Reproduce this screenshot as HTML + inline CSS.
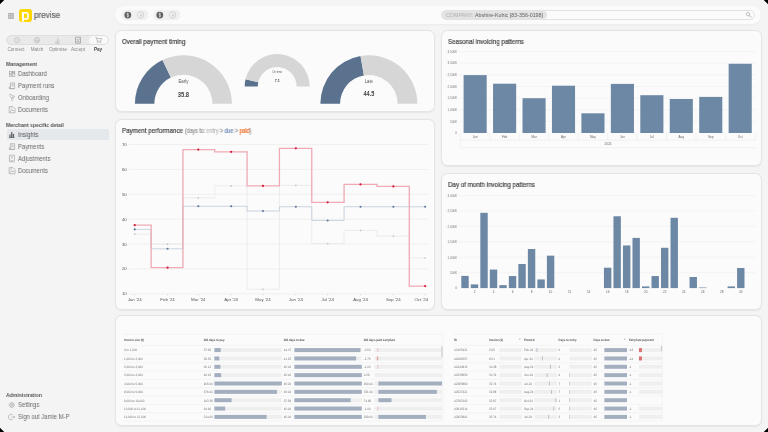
<!DOCTYPE html>
<html><head><meta charset="utf-8">
<style>
*{box-sizing:border-box;margin:0;padding:0}
html,body{width:768px;height:432px;overflow:hidden;background:#f4f4f4;font-family:"Liberation Sans",sans-serif;color:#555}
.a{position:absolute;white-space:nowrap}
.card{position:absolute;background:#fbfbfb;border:0.8px solid #e4e4e4;border-radius:6.5px;box-shadow:0 0.5px 1.5px rgba(0,0,0,0.06)}
.ttl{position:absolute;font-size:7px;color:#454545;white-space:nowrap;transform:scaleX(0.886);transform-origin:0 0;-webkit-text-stroke:0.2px currentColor}
.sh{position:absolute;font-size:6px;font-weight:bold;color:#555;white-space:nowrap;transform:scaleX(0.85);transform-origin:0 0}
.si{position:absolute;font-size:6.9px;color:#6a6a6a;white-space:nowrap;line-height:8px;transform:scaleX(0.855);transform-origin:0 0}
.ico{position:absolute}
.a,.ttl,.si,.sh,svg{will-change:transform}
</style></head><body>
<!-- corners -->
<svg class="a" style="left:0;top:0;z-index:10" width="768" height="432">
<g stroke="#fff" stroke-width="1">
<path d="M0 5.2 L5.2 0 M762.8 0 L768 5.2 M0 426.8 L5.2 432 M762.8 432 L768 426.8"/>
</g>
<polygon points="0,0 4.3,0 0,4.3" fill="#000"/>
<polygon points="768,0 763.7,0 768,4.3" fill="#000"/>
<polygon points="0,432 4.3,432 0,427.7" fill="#000"/>
<polygon points="768,432 763.7,432 768,427.7" fill="#000"/>
</svg>

<!-- SIDEBAR -->
<div id="sidebar">
<!-- hamburger -->
<svg class="a" style="left:8px;top:13px" width="6" height="6"><rect x="0" y="0.2" width="6" height="1.3" fill="#a0a0a0"/><rect x="0" y="2.3" width="6" height="1.3" fill="#a0a0a0"/><rect x="0" y="4.4" width="6" height="1.3" fill="#a0a0a0"/></svg>
<!-- logo -->
<div class="a" style="left:19.1px;top:9.1px;width:12.8px;height:13.1px;background:#ffd600;border-radius:3px"></div>
<svg class="a" style="left:19px;top:9.1px" width="13" height="13.2"><path fill-rule="evenodd" fill="#fff" d="M2.9 2.95 H7.3 A2.5 2.5 0 0 1 9.8 5.45 V8.3 A2.5 2.5 0 0 1 7.3 10.8 H5.1 V12.5 H2.9 Z M5.1 4.6 V9.2 H7 A1.2 1.2 0 0 0 8.2 8 V5.8 A1.2 1.2 0 0 0 7 4.6 Z"/></svg>
<div class="a" style="left:33.8px;top:9.9px;font-size:9px;color:#666;line-height:10px;transform:scaleX(0.9);transform-origin:0 0;-webkit-text-stroke:0.2px #666">previse</div>
<!-- nav pill -->
<div class="a" style="left:6px;top:35.3px;width:102.6px;height:9.6px;border-radius:5px;background:#e9e9e9;border:0.6px solid #dedede;overflow:hidden">
  <div class="a" style="left:82.3px;top:0;width:21px;height:9px;background:#f8f8f8;border-radius:4.5px"></div>
</div>
<svg class="a" style="left:6px;top:35px" width="103" height="11">
 <g fill="none" stroke="#b4b4b4" stroke-width="0.55">
  <circle cx="11.1" cy="5.1" r="2.7"/><path d="M10.3 3.6 L11.8 5.1 L10.3 6.6"/>
  <circle cx="31" cy="5.1" r="2.7"/><path d="M28.4 5.4 H33.6 M29.3 3.4 A2.4 2.4 0 0 0 32.7 3.4 M29.3 7.2 A2.4 2.4 0 0 1 32.7 7.2"/>
  <path d="M50 8.2 V6 M51.5 8.2 V2.8 M53 8.2 V4.5 M49 8.3 H54"/>
 </g>
 <g fill="none" stroke="#999" stroke-width="0.7">
  <path d="M69.5 2.2 H74.5 V8.2 H69.5 Z M70.8 4 L72 5.6 L73.8 3.4 M70.3 6.8 H73.8"/>
 </g>
 <g fill="none" stroke="#a8a8a8" stroke-width="0.65">
  <path d="M89.4 2.3 H90.3 L91.2 6.2 H94.9 L95.6 3.5 H90.9"/><circle cx="91.7" cy="7.4" r="0.45"/><circle cx="94.4" cy="7.4" r="0.45"/>
 </g>
</svg>
<div class="a" style="left:0;top:46.6px;width:115px;font-size:4.6px;color:#888;line-height:5px">
  <span class="a" style="left:16.4px;transform:translateX(-50%)">Connect</span>
  <span class="a" style="left:37px;transform:translateX(-50%)">Match</span>
  <span class="a" style="left:57.5px;transform:translateX(-50%)">Optimise</span>
  <span class="a" style="left:78px;transform:translateX(-50%)">Accept</span>
  <span class="a" style="left:98.4px;transform:translateX(-50%);font-weight:bold;color:#4a4a4a">Pay</span>
</div>
<!-- management -->
<div class="sh" style="left:6.4px;top:60.5px;line-height:6px">Management</div>
<div class="si" style="left:18px;top:69.8px">Dashboard</div>
<div class="si" style="left:18px;top:81.5px">Payment runs</div>
<div class="si" style="left:18px;top:93.5px">Onboarding</div>
<div class="si" style="left:18px;top:105.7px">Documents</div>
<div class="sh" style="left:6.4px;top:122px;line-height:6px">Merchant specific detail</div>
<div class="a" style="left:6.5px;top:129px;width:102px;height:10.7px;background:#e4e8ec;border-radius:1.5px"></div>
<div class="si" style="left:18px;top:130.5px;color:#555">Insights</div>
<div class="si" style="left:18px;top:142.6px">Payments</div>
<div class="si" style="left:18px;top:155px">Adjustments</div>
<div class="si" style="left:18px;top:166.5px">Documents</div>
<div class="sh" style="left:6.4px;top:392.2px;line-height:6px">Administration</div>
<div class="si" style="left:18px;top:401.4px">Settings</div>
<div class="si" style="left:18px;top:413.4px">Sign out Jamie M-P</div>
<svg class="a" style="left:0;top:60px" width="20" height="365">
 <g fill="none" stroke="#a2a2a2" stroke-width="0.65">
  <!-- dashboard grid -->
  <rect x="9.4" y="11.3" width="2.2" height="2.1"/><rect x="9.4" y="14.3" width="2.2" height="2.1"/><rect x="12.6" y="11.3" width="2.2" height="1.4"/><rect x="12.6" y="13.6" width="2.2" height="2.8"/>
  <!-- payment runs -->
  <path d="M10.4 28.6 V22.9 H14.6 V28.6 Z M9.2 27 H10.4 M9.2 27 V28.6 H14.6"/><path d="M11.4 24.4 H13.6 M11.4 25.8 H13.6"/>
  <!-- onboarding -->
  <path d="M9 34.8 Q11 34 12.4 35.6 Q14.2 35.4 14.6 37 Q13 37.6 12.4 37 Q13.6 38.8 12 39.6 L12 41.2 M10.2 36.2 Q11.4 37.4 12 39.4"/>
  <!-- documents -->
  <path d="M9.2 46.6 H13 L15 48.6 V52.8 H9.2 Z M10.2 51.8 L11.8 49.6 L13 51 L14 50 M10.4 48 H12"/>
  <!-- payments -->
  <path d="M10.4 89.4 V83.7 H14.6 V89.4 Z M9.2 87.8 H10.4 M9.2 87.8 V89.4 H14.6"/><path d="M11.4 85.2 H13.6 M11.4 86.6 H13.6"/>
  <!-- adjustments -->
  <path d="M9.4 95.2 H14.4 V101.8 H9.4 Z M10.6 99 L13.2 96.6 M10.6 100.6 H13.2 M10.8 96.8 H12"/>
  <!-- documents 2 -->
  <path d="M9.2 107.6 H13 L15 109.6 V113.8 H9.2 Z M10.2 112.8 L11.8 110.6 L13 112 L14 111 M10.4 109 H12"/>
  <!-- settings -->
  <circle cx="11.8" cy="345" r="2.3"/><circle cx="11.8" cy="345" r="0.9"/>
  <path d="M11.8 342 V342.7 M11.8 347.3 V348 M8.8 345 H9.5 M14.1 345 H14.8 M9.7 342.9 L10.2 343.4 M13.4 346.6 L13.9 347.1 M9.7 347.1 L10.2 346.6 M13.4 343.4 L13.9 342.9"/>
  <!-- sign out -->
  <path d="M12.6 354.6 A2.8 2.8 0 1 0 12.6 359.4 M11.4 357 H14.8 M13.6 355.8 L14.8 357 L13.6 358.2"/>
 </g>
 <!-- insights icon filled -->
 <g fill="#5a5a5a"><rect x="9.4" y="74.6" width="1.2" height="3"/><rect x="11.1" y="72.2" width="1.3" height="5.4"/><rect x="12.9" y="74" width="1.2" height="3.6"/><rect x="9" y="77.3" width="5.4" height="0.7"/></g>
</svg>
</div>

<!-- TOP BAR -->
<div class="a" style="left:115px;top:6.3px;width:646px;height:17.8px;border-radius:8.9px;background:#fbfbfb;box-shadow:0 0 0.8px rgba(0,0,0,0.06),0 1px 2.5px rgba(0,0,0,0.04)"></div>

<div class="a" style="left:121.5px;top:10px;width:25.5px;height:10.3px;border-radius:5.2px;background:#f0f0f0;box-shadow:0 0 0.8px rgba(0,0,0,0.12)"></div>
<div class="a" style="left:153.6px;top:10px;width:25.5px;height:10.3px;border-radius:5.2px;background:#f0f0f0;box-shadow:0 0 0.8px rgba(0,0,0,0.12)"></div>
<svg class="a" style="left:115px;top:6px" width="80" height="18">
 <circle cx="12.8" cy="9.1" r="3.4" fill="#5e5e5e"/>
 <path d="M13.80 7.9 Q12.80 7.3 11.90 7.9 Q11.60 8.9 12.80 9.1 Q14.00 9.4 13.70 10.3 Q12.80 10.9 11.80 10.3 M12.80 6.6 V11.6" fill="none" stroke="#e8e8e8" stroke-width="0.65"/>
 <circle cx="25.6" cy="9.1" r="3.1" fill="#f6f6f6" stroke="#c6c6c6" stroke-width="0.8"/>
 <text x="25.6" y="10.6" font-family="Liberation Sans" font-size="3.6" fill="#777" text-anchor="middle">₹</text>
 <circle cx="44.8" cy="9.1" r="3.4" fill="#5e5e5e"/>
 <path d="M45.80 7.9 Q44.80 7.3 43.90 7.9 Q43.60 8.9 44.80 9.1 Q46.00 9.4 45.70 10.3 Q44.80 10.9 43.80 10.3 M44.80 6.6 V11.6" fill="none" stroke="#e8e8e8" stroke-width="0.65"/>
 <circle cx="57.6" cy="9.1" r="3.1" fill="#f6f6f6" stroke="#c6c6c6" stroke-width="0.8"/>
 <text x="57.6" y="10.6" font-family="Liberation Sans" font-size="3.6" fill="#777" text-anchor="middle">₹</text>
</svg>
<!-- search -->
<div class="a" style="left:441px;top:10.2px;width:314px;height:9.6px;border-radius:4.8px;background:#fbfbfb;border:0.6px solid #e2e2e2"></div>
<div class="a" style="left:441.7px;top:10.8px;width:104.8px;height:8.4px;border-radius:4.2px;background:#e3e3e3"></div>
<div class="a" style="left:445.6px;top:12px;font-size:5.35px;line-height:6px;color:#b0b0b0">COMPANY: <span style="color:#606060">Abshire-Kuhic [83-356-0198]</span></div>
<svg class="a" style="left:745px;top:11px" width="8" height="8"><circle cx="3" cy="3.2" r="1.7" fill="none" stroke="#999" stroke-width="0.6"/><path d="M4.2 4.4 L6.2 6.4" stroke="#999" stroke-width="0.8"/></svg>

<!-- CARDS -->
<div class="card" style="left:115.2px;top:30.2px;width:319.8px;height:82.2px"></div>
<div class="card" style="left:441px;top:30.2px;width:320.8px;height:136.3px"></div>
<div class="card" style="left:115.2px;top:119.2px;width:319.8px;height:190.8px"></div>
<div class="card" style="left:441px;top:173.2px;width:320.8px;height:136.8px"></div>
<div class="card" style="left:115.2px;top:315px;width:646.6px;height:110.5px"></div>
<div class="ttl" style="left:121.5px;top:38px;line-height:7px">Overall payment timing</div>
<div class="ttl" style="left:448px;top:37.8px;line-height:7px">Seasonal invoicing patterns</div>
<div class="ttl" style="left:448px;top:181px;line-height:7px">Day of month invoicing patterns</div>
<div class="ttl" style="left:121.8px;top:127.2px;line-height:7px">Payment performance <span style="font-size:6.5px;letter-spacing:-0.22px;color:#9a9a9a">(days to: <span style="color:#bdbdbd">entry</span> &gt; <span style="color:#7391b5">due</span> &gt; <span style="color:#f2712e">paid</span>)</span></div>
<svg class="a" style="left:0;top:0" width="440" height="115" font-family="Liberation Sans">
<path d="M134.90 103.75 A48.5 48.5 0 0 1 162.47 60.00 L170.89 77.59 A29 29 0 0 0 154.40 103.75 Z" fill="#5b728f"/>
<path d="M162.47 60.00 A48.5 48.5 0 0 1 231.90 103.75 L212.40 103.75 A29 29 0 0 0 170.89 77.59 Z" fill="#d6d6d6"/>
<path d="M244.70 86.50 A32.5 32.5 0 0 1 245.51 79.31 L258.28 82.21 A19.4 19.4 0 0 0 257.80 86.50 Z" fill="#5b728f"/>
<path d="M245.51 79.31 A32.5 32.5 0 0 1 309.70 86.50 L296.60 86.50 A19.4 19.4 0 0 0 258.28 82.21 Z" fill="#d6d6d6"/>
<path d="M320.35 103.75 A48.5 48.5 0 0 1 360.51 55.97 L363.90 75.38 A28.8 28.8 0 0 0 340.05 103.75 Z" fill="#5b728f"/>
<path d="M360.51 55.97 A48.5 48.5 0 0 1 417.35 103.75 L397.65 103.75 A28.8 28.8 0 0 0 363.90 75.38 Z" fill="#d6d6d6"/>
<g text-anchor="middle">
<g transform="translate(183.4 83.10) scale(0.83 1)"><text x="0" y="0" font-size="5.3" fill="#555">Early</text></g>
<g transform="translate(183.4 96.76) scale(0.89 1)"><text x="0" y="0" font-size="6.6" font-weight="bold" fill="#444">35.8</text></g>
<g transform="translate(277.2 72.88) scale(0.85 1)"><text x="0" y="0" font-size="3.3" fill="#555">On time</text></g>
<g transform="translate(277.2 81.73) scale(0.9 1)"><text x="0" y="0" font-size="4.0" font-weight="bold" fill="#444">7.1</text></g>
<g transform="translate(368.85 83.00) scale(0.857 1)"><text x="0" y="0" font-size="4.9" fill="#555">Late</text></g>
<g transform="translate(368.85 96.01) scale(0.89 1)"><text x="0" y="0" font-size="6.3" font-weight="bold" fill="#444">44.5</text></g>
</g>
</svg>

<!--BARS-->
<svg class="a" style="left:0;top:0" width="768" height="310" font-family="Liberation Sans">
<path d="M458 121.36 H755.5" stroke="#ededed" stroke-width="0.5"/>
<path d="M458 109.72 H755.5" stroke="#ededed" stroke-width="0.5"/>
<path d="M458 98.08 H755.5" stroke="#ededed" stroke-width="0.5"/>
<path d="M458 86.44 H755.5" stroke="#ededed" stroke-width="0.5"/>
<path d="M458 74.80 H755.5" stroke="#ededed" stroke-width="0.5"/>
<path d="M458 63.16 H755.5" stroke="#ededed" stroke-width="0.5"/>
<path d="M458 51.52 H755.5" stroke="#ededed" stroke-width="0.5"/>
<g font-size="3" fill="#777" text-anchor="end"><text x="457" y="134.30">0</text><text x="457" y="122.66">500K</text><text x="457" y="111.02">1,000K</text><text x="457" y="99.38">1,500K</text><text x="457" y="87.74">2,000K</text><text x="457" y="76.10">2,500K</text><text x="457" y="64.46">3,000K</text><text x="457" y="52.82">3,500K</text></g>
<rect x="463.60" y="75.1" width="23.1" height="57.90" fill="#6d88a5"/>
<rect x="493.05" y="83.7" width="23.1" height="49.30" fill="#6d88a5"/>
<rect x="522.50" y="98.2" width="23.1" height="34.80" fill="#6d88a5"/>
<rect x="551.95" y="85.7" width="23.1" height="47.30" fill="#6d88a5"/>
<rect x="581.40" y="113.3" width="23.1" height="19.70" fill="#6d88a5"/>
<rect x="610.85" y="83.9" width="23.1" height="49.10" fill="#6d88a5"/>
<rect x="640.30" y="95.2" width="23.1" height="37.80" fill="#6d88a5"/>
<rect x="669.75" y="99" width="23.1" height="34.00" fill="#6d88a5"/>
<rect x="699.20" y="96.9" width="23.1" height="36.10" fill="#6d88a5"/>
<rect x="728.65" y="63.75" width="23.1" height="69.25" fill="#6d88a5"/>
<g fill="none" stroke="#e6e6e6" stroke-width="0.5">
<path d="M460.4 133.2 V147.7 H755.5 M460.4 140.2 H755.5"/>
<path d="M489.85 133.2 V140.2"/>
<path d="M519.30 133.2 V140.2"/>
<path d="M548.75 133.2 V140.2"/>
<path d="M578.20 133.2 V140.2"/>
<path d="M607.65 133.2 V140.2"/>
<path d="M637.10 133.2 V140.2"/>
<path d="M666.55 133.2 V140.2"/>
<path d="M696.00 133.2 V140.2"/>
<path d="M725.45 133.2 V140.2"/>
<path d="M755.50 133.2 V140.2"/>
</g>
<g font-size="3.1" fill="#666" text-anchor="middle">
<text x="475.15" y="137.6">Jan</text>
<text x="504.60" y="137.6">Feb</text>
<text x="534.05" y="137.6">Mar</text>
<text x="563.50" y="137.6">Apr</text>
<text x="592.95" y="137.6">May</text>
<text x="622.40" y="137.6">Jun</text>
<text x="651.85" y="137.6">Jul</text>
<text x="681.30" y="137.6">Aug</text>
<text x="710.75" y="137.6">Sep</text>
<text x="740.20" y="137.6">Oct</text>
<text x="608" y="145.2">2024</text></g>
<path d="M458 272.65 H755.5" stroke="#ededed" stroke-width="0.5"/>
<path d="M458 257.20 H755.5" stroke="#ededed" stroke-width="0.5"/>
<path d="M458 241.75 H755.5" stroke="#ededed" stroke-width="0.5"/>
<path d="M458 226.30 H755.5" stroke="#ededed" stroke-width="0.5"/>
<path d="M458 210.85 H755.5" stroke="#ededed" stroke-width="0.5"/>
<path d="M458 195.40 H755.5" stroke="#ededed" stroke-width="0.5"/>
<g font-size="3" fill="#777" text-anchor="end"><text x="457" y="289.40">0</text><text x="457" y="273.95">500K</text><text x="457" y="258.50">1,000K</text><text x="457" y="243.05">1,500K</text><text x="457" y="227.60">2,000K</text><text x="457" y="212.15">2,500K</text><text x="457" y="196.70">3,000K</text></g>
<rect x="461.30" y="275.89" width="7.4" height="12.21" fill="#6d88a5"/>
<rect x="470.81" y="284.39" width="7.4" height="3.71" fill="#6d88a5"/>
<rect x="480.32" y="212.83" width="7.4" height="75.27" fill="#6d88a5"/>
<rect x="489.83" y="269.56" width="7.4" height="18.54" fill="#6d88a5"/>
<rect x="499.34" y="285.16" width="7.4" height="2.94" fill="#6d88a5"/>
<rect x="508.85" y="276.05" width="7.4" height="12.05" fill="#6d88a5"/>
<rect x="518.36" y="264.00" width="7.4" height="24.10" fill="#6d88a5"/>
<rect x="527.87" y="249.01" width="7.4" height="39.09" fill="#6d88a5"/>
<rect x="537.38" y="279.45" width="7.4" height="8.65" fill="#6d88a5"/>
<rect x="546.89" y="255.66" width="7.4" height="32.45" fill="#6d88a5"/>
<rect x="603.95" y="267.71" width="7.4" height="20.39" fill="#6d88a5"/>
<rect x="613.46" y="216.26" width="7.4" height="71.84" fill="#6d88a5"/>
<rect x="622.97" y="245.46" width="7.4" height="42.64" fill="#6d88a5"/>
<rect x="632.48" y="237.89" width="7.4" height="50.21" fill="#6d88a5"/>
<rect x="641.99" y="286.40" width="7.4" height="1.70" fill="#6d88a5"/>
<rect x="651.50" y="276.05" width="7.4" height="12.05" fill="#6d88a5"/>
<rect x="661.01" y="247.78" width="7.4" height="40.32" fill="#6d88a5"/>
<rect x="670.52" y="217.80" width="7.4" height="70.30" fill="#6d88a5"/>
<rect x="689.54" y="276.98" width="7.4" height="11.12" fill="#6d88a5"/>
<rect x="699.05" y="287.48" width="7.4" height="0.62" fill="#6d88a5"/>
<rect x="727.58" y="286.40" width="7.4" height="1.70" fill="#6d88a5"/>
<rect x="737.09" y="268.02" width="7.4" height="20.09" fill="#6d88a5"/>
<g font-size="3.1" fill="#666" text-anchor="middle">
<text x="474.51" y="293.1">2</text>
<text x="493.53" y="293.1">4</text>
<text x="512.55" y="293.1">6</text>
<text x="531.57" y="293.1">8</text>
<text x="550.59" y="293.1">10</text>
<text x="569.61" y="293.1">12</text>
<text x="588.63" y="293.1">14</text>
<text x="607.65" y="293.1">16</text>
<text x="626.67" y="293.1">18</text>
<text x="645.69" y="293.1">20</text>
<text x="664.71" y="293.1">22</text>
<text x="683.73" y="293.1">24</text>
<text x="702.75" y="293.1">26</text>
<text x="721.77" y="293.1">28</text>
<text x="740.79" y="293.1">30</text>
</g>
</svg>
<!--/BARS-->
<!--LINE-->
<svg class="a" style="left:0;top:0" width="440" height="310" font-family="Liberation Sans">
<path d="M128.7 144.60 H428.2 M128.7 169.47 H428.2 M128.7 194.34 H428.2 M128.7 219.21 H428.2 M128.7 244.08 H428.2 M128.7 268.95 H428.2 M128.7 293.82 H428.2" stroke="#eaeaea" stroke-width="0.6" fill="none"/>
<g font-size="4.4" fill="#555" text-anchor="end"><text x="126.8" y="146.10">70</text><text x="126.8" y="170.97">60</text><text x="126.8" y="195.84">50</text><text x="126.8" y="220.71">40</text><text x="126.8" y="245.58">30</text><text x="126.8" y="270.45">20</text><text x="126.8" y="295.32">10</text></g>
<path d="M134.70 293.8 V295.6 M167.57 293.8 V295.6 M198.31 293.8 V295.6 M231.18 293.8 V295.6 M262.98 293.8 V295.6 M295.85 293.8 V295.6 M327.66 293.8 V295.6 M360.52 293.8 V295.6 M393.39 293.8 V295.6 M425.19 293.8 V295.6" stroke="#ccc" stroke-width="0.5"/>
<g font-size="4.4" fill="#555" text-anchor="middle"><text x="134.70" y="300.5">Jan '24</text><text x="167.57" y="300.5">Feb '24</text><text x="198.31" y="300.5">Mar '24</text><text x="231.18" y="300.5">Apr '24</text><text x="262.98" y="300.5">May '24</text><text x="295.85" y="300.5">Jun '24</text><text x="327.66" y="300.5">Jul '24</text><text x="360.52" y="300.5">Aug '24</text><text x="393.39" y="300.5">Sep '24</text><text x="428.2" y="300.5" text-anchor="end">Oct '24</text></g>
<path d="M134.70 234.13 H151.13 V244.08 H182.94 V197.82 H214.75 V185.88 H247.08 V289.34 H279.42 V185.39 H311.75 V243.58 H344.09 V230.40 H376.96 V236.12 H409.29 V258.01 H425.19" fill="none" stroke="#e2e2e2" stroke-width="0.6"/>
<path d="M134.70 229.41 H151.13 V248.81 H182.94 V206.28 H214.75 V206.28 H247.08 V211.00 H279.42 V206.78 H311.75 V220.45 H344.09 V206.78 H376.96 V206.78 H409.29 V206.78 H425.19" fill="none" stroke="#c3cedb" stroke-width="0.9"/>
<path d="M134.70 225.18 H151.13 V267.71 H182.94 V149.57 H214.75 V151.81 H247.08 V185.88 H279.42 V148.33 H311.75 V202.30 H344.09 V184.39 H376.96 V186.38 H409.29 V286.11 H425.19" fill="none" stroke="#efaab4" stroke-width="1.3"/>
<circle cx="134.70" cy="234.13" r="0.85" fill="#c4c4c4"/>
<circle cx="167.57" cy="244.08" r="0.85" fill="#c4c4c4"/>
<circle cx="198.31" cy="197.82" r="0.85" fill="#c4c4c4"/>
<circle cx="231.18" cy="185.88" r="0.85" fill="#c4c4c4"/>
<circle cx="262.98" cy="289.34" r="0.85" fill="#c4c4c4"/>
<circle cx="295.85" cy="185.39" r="0.85" fill="#c4c4c4"/>
<circle cx="327.66" cy="243.58" r="0.85" fill="#c4c4c4"/>
<circle cx="360.52" cy="230.40" r="0.85" fill="#c4c4c4"/>
<circle cx="393.39" cy="236.12" r="0.85" fill="#c4c4c4"/>
<circle cx="425.19" cy="258.01" r="0.85" fill="#c4c4c4"/>
<circle cx="134.70" cy="229.41" r="1.05" fill="#5b7598"/>
<circle cx="167.57" cy="248.81" r="1.05" fill="#5b7598"/>
<circle cx="198.31" cy="206.28" r="1.05" fill="#5b7598"/>
<circle cx="231.18" cy="206.28" r="1.05" fill="#5b7598"/>
<circle cx="262.98" cy="211.00" r="1.05" fill="#5b7598"/>
<circle cx="295.85" cy="206.78" r="1.05" fill="#5b7598"/>
<circle cx="327.66" cy="220.45" r="1.05" fill="#5b7598"/>
<circle cx="360.52" cy="206.78" r="1.05" fill="#5b7598"/>
<circle cx="393.39" cy="206.78" r="1.05" fill="#5b7598"/>
<circle cx="425.19" cy="206.78" r="1.05" fill="#5b7598"/>
<circle cx="134.70" cy="225.18" r="1.15" fill="#d61a3a"/>
<circle cx="167.57" cy="267.71" r="1.15" fill="#d61a3a"/>
<circle cx="198.31" cy="149.57" r="1.15" fill="#d61a3a"/>
<circle cx="231.18" cy="151.81" r="1.15" fill="#d61a3a"/>
<circle cx="262.98" cy="185.88" r="1.15" fill="#d61a3a"/>
<circle cx="295.85" cy="148.33" r="1.15" fill="#d61a3a"/>
<circle cx="327.66" cy="202.30" r="1.15" fill="#d61a3a"/>
<circle cx="360.52" cy="184.39" r="1.15" fill="#d61a3a"/>
<circle cx="393.39" cy="186.38" r="1.15" fill="#d61a3a"/>
<circle cx="425.19" cy="286.11" r="1.15" fill="#d61a3a"/>
</svg>
<!--/LINE-->
<!--TABLE-->
<svg class="a" style="left:0;top:0" width="768" height="432" text-rendering="geometricPrecision" font-family="Liberation Sans">
<path d="M123.5 334.2 H443.0 V420.3 M123.5 345.4 H443.0 M123.5 354.35 H443.0 M123.5 362.70 H443.0 M123.5 371.05 H443.0 M123.5 379.40 H443.0 M123.5 387.75 H443.0 M123.5 396.10 H443.0 M123.5 404.45 H443.0 M123.5 412.80 H443.0 M123.5 421.15 H443.0 M453.5 334.2 H662.5 V420.3 M453.5 345.4 H662.5 M453.5 354.35 H662.5 M453.5 362.70 H662.5 M453.5 371.05 H662.5 M453.5 379.40 H662.5 M453.5 387.75 H662.5 M453.5 396.10 H662.5 M453.5 404.45 H662.5 M453.5 412.80 H662.5 M453.5 421.15 H662.5" stroke="#ececec" stroke-width="0.5" fill="none"/>
<g transform="scale(0.87 1)" font-size="3.25" font-weight="bold" fill="#555"><text x="142.53" y="341.4">Invoice size ($)</text><text x="234.14" y="341.4">WA days to pay</text><text x="326.09" y="341.4">WA days to due</text><text x="418.16" y="341.4">WA days paid early/late</text><text x="521.84" y="341.4">ID</text><text x="562.18" y="341.4">Invoice ($)</text><text x="602.18" y="341.4">Entered</text><text x="642.07" y="341.4">Days to entry</text><text x="682.30" y="341.4">Days to due</text><text x="722.87" y="341.4">Early/late payment</text></g>
<path d="M518.9 338.8 L520.7 338.8 L519.8 339.8 Z M623.7 338.8 L625.5 338.8 L624.6 339.8 Z" fill="#888"/>
<rect x="214.4" y="348.10" width="67.4" height="4" fill="#efefef"/>
<rect x="214.4" y="348.10" width="6.32" height="4" fill="#a3afbf"/>
<rect x="294.4" y="348.10" width="67.4" height="4" fill="#efefef"/>
<rect x="294.4" y="348.10" width="66.01" height="4" fill="#a3afbf"/>
<rect x="374.4" y="348.10" width="68" height="4" fill="#efefef"/>
<rect x="377.60" y="348.10" width="0.60" height="4" fill="#e8a0a0"/>
<rect x="378.0" y="348.10" width="0.3" height="4" fill="#e4e4e4"/>
<rect x="214.4" y="356.45" width="67.4" height="4" fill="#efefef"/>
<rect x="214.4" y="356.45" width="4.91" height="4" fill="#a3afbf"/>
<rect x="294.4" y="356.45" width="67.4" height="4" fill="#efefef"/>
<rect x="294.4" y="356.45" width="61.75" height="4" fill="#a3afbf"/>
<rect x="374.4" y="356.45" width="68" height="4" fill="#efefef"/>
<rect x="376.82" y="356.45" width="1.38" height="4" fill="#e8a0a0"/>
<rect x="378.0" y="356.45" width="0.3" height="4" fill="#e4e4e4"/>
<rect x="214.4" y="364.80" width="67.4" height="4" fill="#efefef"/>
<rect x="214.4" y="364.80" width="6.01" height="4" fill="#a3afbf"/>
<rect x="294.4" y="364.80" width="67.4" height="4" fill="#efefef"/>
<rect x="294.4" y="364.80" width="67.40" height="4" fill="#a3afbf"/>
<rect x="374.4" y="364.80" width="68" height="4" fill="#efefef"/>
<rect x="377.60" y="364.80" width="0.60" height="4" fill="#e8a0a0"/>
<rect x="378.0" y="364.80" width="0.3" height="4" fill="#e4e4e4"/>
<rect x="214.4" y="373.15" width="67.4" height="4" fill="#efefef"/>
<rect x="214.4" y="373.15" width="6.76" height="4" fill="#a3afbf"/>
<rect x="294.4" y="373.15" width="67.4" height="4" fill="#efefef"/>
<rect x="294.4" y="373.15" width="67.40" height="4" fill="#a3afbf"/>
<rect x="374.4" y="373.15" width="68" height="4" fill="#efefef"/>
<rect x="378.0" y="373.15" width="0.3" height="4" fill="#e4e4e4"/>
<rect x="214.4" y="381.50" width="67.4" height="4" fill="#efefef"/>
<rect x="214.4" y="381.50" width="67.40" height="4" fill="#a3afbf"/>
<rect x="294.4" y="381.50" width="67.4" height="4" fill="#efefef"/>
<rect x="294.4" y="381.50" width="67.40" height="4" fill="#a3afbf"/>
<rect x="374.4" y="381.50" width="68" height="4" fill="#efefef"/>
<rect x="378.2" y="381.50" width="63.80" height="4" fill="#a3afbf"/>
<rect x="378.0" y="381.50" width="0.3" height="4" fill="#e4e4e4"/>
<rect x="214.4" y="389.85" width="67.4" height="4" fill="#efefef"/>
<rect x="214.4" y="389.85" width="62.57" height="4" fill="#a3afbf"/>
<rect x="294.4" y="389.85" width="67.4" height="4" fill="#efefef"/>
<rect x="294.4" y="389.85" width="67.40" height="4" fill="#a3afbf"/>
<rect x="374.4" y="389.85" width="68" height="4" fill="#efefef"/>
<rect x="378.2" y="389.85" width="58.66" height="4" fill="#a3afbf"/>
<rect x="378.0" y="389.85" width="0.3" height="4" fill="#e4e4e4"/>
<rect x="214.4" y="398.20" width="67.4" height="4" fill="#efefef"/>
<rect x="214.4" y="398.20" width="17.20" height="4" fill="#a3afbf"/>
<rect x="294.4" y="398.20" width="67.4" height="4" fill="#efefef"/>
<rect x="294.4" y="398.20" width="56.29" height="4" fill="#a3afbf"/>
<rect x="374.4" y="398.20" width="68" height="4" fill="#efefef"/>
<rect x="378.2" y="398.20" width="13.27" height="4" fill="#a3afbf"/>
<rect x="378.0" y="398.20" width="0.3" height="4" fill="#e4e4e4"/>
<rect x="214.4" y="406.55" width="67.4" height="4" fill="#efefef"/>
<rect x="214.4" y="406.55" width="10.80" height="4" fill="#a3afbf"/>
<rect x="294.4" y="406.55" width="67.4" height="4" fill="#efefef"/>
<rect x="294.4" y="406.55" width="67.40" height="4" fill="#a3afbf"/>
<rect x="374.4" y="406.55" width="68" height="4" fill="#efefef"/>
<rect x="377.60" y="406.55" width="0.60" height="4" fill="#e8a0a0"/>
<rect x="378.0" y="406.55" width="0.3" height="4" fill="#e4e4e4"/>
<rect x="214.4" y="414.90" width="67.4" height="4" fill="#efefef"/>
<rect x="214.4" y="414.90" width="52.26" height="4" fill="#a3afbf"/>
<rect x="294.4" y="414.90" width="67.4" height="4" fill="#efefef"/>
<rect x="294.4" y="414.90" width="67.40" height="4" fill="#a3afbf"/>
<rect x="374.4" y="414.90" width="68" height="4" fill="#efefef"/>
<rect x="378.2" y="414.90" width="47.67" height="4" fill="#a3afbf"/>
<rect x="378.0" y="414.90" width="0.3" height="4" fill="#e4e4e4"/>
<rect x="499.5" y="348.10" width="22.3" height="4" fill="#efefef"/>
<rect x="534.3" y="348.10" width="22.7" height="4" fill="#efefef"/>
<rect x="536.65" y="348.10" width="0.6" height="4" fill="#95a5bb"/>
<rect x="569.3" y="348.10" width="22.4" height="4" fill="#efefef"/>
<rect x="604.35" y="348.10" width="22.65" height="4" fill="#a3afbf"/>
<rect x="639" y="348.10" width="23.2" height="4" fill="#efefef"/>
<rect x="639" y="348.10" width="2.9" height="4" fill="#d9706e"/>
<rect x="499.5" y="356.45" width="22.3" height="4" fill="#efefef"/>
<rect x="534.3" y="356.45" width="22.7" height="4" fill="#efefef"/>
<rect x="542.15" y="356.45" width="0.6" height="4" fill="#95a5bb"/>
<rect x="569.3" y="356.45" width="22.4" height="4" fill="#efefef"/>
<rect x="604.35" y="356.45" width="22.65" height="4" fill="#a3afbf"/>
<rect x="639" y="356.45" width="23.2" height="4" fill="#efefef"/>
<rect x="639" y="356.45" width="2.9" height="4" fill="#d9706e"/>
<rect x="499.5" y="364.80" width="22.3" height="4" fill="#efefef"/>
<rect x="534.3" y="364.80" width="22.7" height="4" fill="#efefef"/>
<rect x="550.25" y="364.80" width="0.6" height="4" fill="#95a5bb"/>
<rect x="569.3" y="364.80" width="22.4" height="4" fill="#efefef"/>
<rect x="604.35" y="364.80" width="22.65" height="4" fill="#a3afbf"/>
<rect x="639" y="364.80" width="23.2" height="4" fill="#efefef"/>
<rect x="499.5" y="373.15" width="22.3" height="4" fill="#efefef"/>
<rect x="534.3" y="373.15" width="22.7" height="4" fill="#efefef"/>
<rect x="546.75" y="373.15" width="0.6" height="4" fill="#95a5bb"/>
<rect x="569.3" y="373.15" width="22.4" height="4" fill="#efefef"/>
<rect x="569.3" y="373.15" width="0.5" height="4" fill="#a3afbf"/>
<rect x="604.35" y="373.15" width="22.65" height="4" fill="#a3afbf"/>
<rect x="639" y="373.15" width="23.2" height="4" fill="#efefef"/>
<rect x="499.5" y="381.50" width="22.3" height="4" fill="#efefef"/>
<rect x="534.3" y="381.50" width="22.7" height="4" fill="#efefef"/>
<rect x="549.15" y="381.50" width="0.6" height="4" fill="#95a5bb"/>
<rect x="569.3" y="381.50" width="22.4" height="4" fill="#efefef"/>
<rect x="569.3" y="381.50" width="0.5" height="4" fill="#a3afbf"/>
<rect x="604.35" y="381.50" width="22.65" height="4" fill="#a3afbf"/>
<rect x="639" y="381.50" width="23.2" height="4" fill="#efefef"/>
<rect x="499.5" y="389.85" width="22.3" height="4" fill="#efefef"/>
<rect x="534.3" y="389.85" width="22.7" height="4" fill="#efefef"/>
<rect x="551.25" y="389.85" width="0.6" height="4" fill="#95a5bb"/>
<rect x="569.3" y="389.85" width="22.4" height="4" fill="#efefef"/>
<rect x="569.3" y="389.85" width="0.5" height="4" fill="#a3afbf"/>
<rect x="604.35" y="389.85" width="22.65" height="4" fill="#a3afbf"/>
<rect x="639" y="389.85" width="23.2" height="4" fill="#efefef"/>
<rect x="499.5" y="398.20" width="22.3" height="4" fill="#efefef"/>
<rect x="534.3" y="398.20" width="22.7" height="4" fill="#efefef"/>
<rect x="555.65" y="398.20" width="0.6" height="4" fill="#95a5bb"/>
<rect x="569.3" y="398.20" width="22.4" height="4" fill="#efefef"/>
<rect x="569.3" y="398.20" width="0.5" height="4" fill="#a3afbf"/>
<rect x="604.35" y="398.20" width="22.65" height="4" fill="#a3afbf"/>
<rect x="499.5" y="406.55" width="22.3" height="4" fill="#efefef"/>
<rect x="534.3" y="406.55" width="22.7" height="4" fill="#efefef"/>
<rect x="553.55" y="406.55" width="0.6" height="4" fill="#95a5bb"/>
<rect x="569.3" y="406.55" width="22.4" height="4" fill="#efefef"/>
<rect x="569.3" y="406.55" width="0.5" height="4" fill="#a3afbf"/>
<rect x="604.35" y="406.55" width="22.65" height="4" fill="#a3afbf"/>
<rect x="639" y="406.55" width="23.2" height="4" fill="#efefef"/>
<rect x="499.5" y="414.90" width="22.3" height="4" fill="#efefef"/>
<rect x="534.3" y="414.90" width="22.7" height="4" fill="#efefef"/>
<rect x="548.45" y="414.90" width="0.6" height="4" fill="#95a5bb"/>
<rect x="569.3" y="414.90" width="22.4" height="4" fill="#efefef"/>
<rect x="569.3" y="414.90" width="0.5" height="4" fill="#a3afbf"/>
<rect x="604.35" y="414.90" width="22.65" height="4" fill="#a3afbf"/>
<rect x="639" y="414.90" width="23.2" height="4" fill="#efefef"/>
<g transform="scale(0.87 1)" font-size="3.4" fill="#707070"><text x="142.53" y="351.40">0 to 1,000</text><text x="234.14" y="351.40">37.95</text><text x="326.09" y="351.40">44.07</text><text x="418.16" y="351.40">-0.54</text><text x="142.53" y="359.75">1,000 to 2,000</text><text x="234.14" y="359.75">29.52</text><text x="326.09" y="359.75">41.23</text><text x="418.16" y="359.75">-2.75</text><text x="142.53" y="368.10">2,000 to 3,000</text><text x="234.14" y="368.10">36.12</text><text x="326.09" y="368.10">45.00</text><text x="418.16" y="368.10">-1.03</text><text x="142.53" y="376.45">3,000 to 4,000</text><text x="234.14" y="376.45">40.62</text><text x="326.09" y="376.45">45.00</text><text x="418.16" y="376.45">0.29</text><text x="142.53" y="384.80">4,000 to 5,000</text><text x="234.14" y="384.80">405.00</text><text x="326.09" y="384.80">45.00</text><text x="418.16" y="384.80">360.00</text><text x="142.53" y="393.15">8,000 to 9,000</text><text x="234.14" y="393.15">376.00</text><text x="326.09" y="393.15">45.00</text><text x="418.16" y="393.15">331.00</text><text x="142.53" y="401.50">9,000 to 10,000</text><text x="234.14" y="401.50">103.38</text><text x="326.09" y="401.50">37.58</text><text x="418.16" y="401.50">74.85</text><text x="142.53" y="409.85">10,000 to 11,000</text><text x="234.14" y="409.85">64.90</text><text x="326.09" y="409.85">45.00</text><text x="418.16" y="409.85">-1.00</text><text x="142.53" y="418.20">11,000 to 12,000</text><text x="234.14" y="418.20">314.00</text><text x="326.09" y="418.20">45.00</text><text x="418.16" y="418.20">269.00</text><text x="521.84" y="351.40">A2425421</text><text x="562.18" y="351.40">2.05</text><text x="602.18" y="351.40">Feb-24</text><text x="642.07" y="351.40">0</text><text x="682.30" y="351.40">45</text><text x="722.87" y="351.40">-43</text><text x="521.84" y="359.75">A2085257</text><text x="562.18" y="359.75">8.51</text><text x="602.18" y="359.75">Apr-24</text><text x="642.07" y="359.75">0</text><text x="682.30" y="359.75">45</text><text x="722.87" y="359.75">-44</text><text x="521.84" y="368.10">A2440815</text><text x="562.18" y="368.10">30.28</text><text x="602.18" y="368.10">Aug-24</text><text x="642.07" y="368.10">2</text><text x="682.30" y="368.10">45</text><text x="722.87" y="368.10">-1</text><text x="521.84" y="376.45">A2335850</text><text x="562.18" y="376.45">30.74</text><text x="602.18" y="376.45">Jun-24</text><text x="642.07" y="376.45">4</text><text x="682.30" y="376.45">45</text><text x="722.87" y="376.45">-1</text><text x="521.84" y="384.80">A2385880</text><text x="562.18" y="384.80">32.74</text><text x="602.18" y="384.80">Jul-24</text><text x="642.07" y="384.80">7</text><text x="682.30" y="384.80">45</text><text x="722.87" y="384.80">-1</text><text x="521.84" y="393.15">A2527421</text><text x="562.18" y="393.15">32.88</text><text x="602.18" y="393.15">Aug-24</text><text x="642.07" y="393.15">7</text><text x="682.30" y="393.15">45</text><text x="722.87" y="393.15">-1</text><text x="521.84" y="401.50">A2787002</text><text x="562.18" y="401.50">32.97</text><text x="602.18" y="401.50">Oct-24</text><text x="642.07" y="401.50">1</text><text x="682.30" y="401.50">45</text><text x="722.87" y="401.50"></text><text x="521.84" y="409.85">A2815214</text><text x="562.18" y="409.85">33.07</text><text x="602.18" y="409.85">Sep-24</text><text x="642.07" y="409.85">5</text><text x="682.30" y="409.85">45</text><text x="722.87" y="409.85">-1</text><text x="521.84" y="418.20">A2823801</text><text x="562.18" y="418.20">35.74</text><text x="602.18" y="418.20">Jul-24</text><text x="642.07" y="418.20">3</text><text x="682.30" y="418.20">45</text><text x="722.87" y="418.20">-1</text></g>
<rect x="441.3" y="346.1" width="1.3" height="11.2" rx="0.6" fill="#cfcfcf"/>
<rect x="660.9" y="345.8" width="1.3" height="5.4" rx="0.6" fill="#cfcfcf"/>
</svg>
<!--/TABLE-->
</body></html>
